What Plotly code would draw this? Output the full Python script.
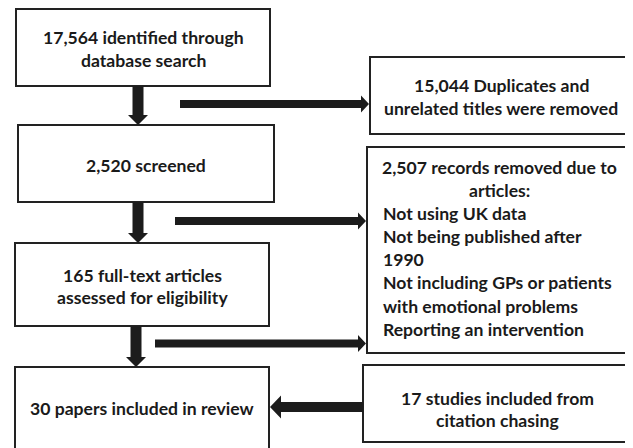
import plotly.graph_objects as go

# ---- content (text of each stage, one entry per line) ----
main_steps = [
    ["17,564 identified through", "database search"],
    ["2,520 screened"],
    ["165 full-text articles", "assessed for eligibility"],
    ["30 papers included in review"],
]
side_steps = [
    ["15,044 Duplicates and", "unrelated titles were removed"],
    ["2,507 records removed due to", "articles:"],
    ["17 studies included from", "citation chasing"],
]
exclusion_reasons = [
    "Not using UK data",
    "Not being published after",
    "1990",
    "Not including GPs or patients",
    "with emotional problems",
    "Reporting an intervention",
]

# ---- layout geometry (page pixel space) ----
W, H = 633, 448
OFF = 8  # default body margin of the page
main_boxes = [(16, 9, 270, 86), (18, 125, 274, 202), (15, 243, 269, 326), (15, 367, 269, 452)]
main_text_y = [[37, 60], [165], [275, 297], [408]]
side_boxes = [(370, 57, 632, 134), (367, 147, 632, 353), (363, 365, 632, 442)]
side_text_y = [[85, 108], [167, 190], [398, 420]]
reason_x = 381
reason_y0, reason_dy = 213, 23.3

FONT = "Lato"
FS = 17.6
TXT = "#1a1a1a"
LINE = "#222222"
ARROW = "#1c1c1c"

fig = go.Figure()
fig.add_trace(go.Scatter(x=[OFF, W], y=[OFF, H], mode="markers", marker=dict(opacity=0),
                         hoverinfo="skip", showlegend=False))

shapes = []
for (x0, y0, x1, y1) in main_boxes + side_boxes:
    shapes.append(dict(type="rect", x0=x0, y0=y0, x1=x1, y1=y1,
                       line=dict(color=LINE, width=2), fillcolor="white", layer="below"))

def down_arrow(cx, y0, ytip, w=11, hw=20, hl=10):
    yb = ytip - hl
    return (f"M{cx-w/2},{y0} L{cx+w/2},{y0} L{cx+w/2},{yb} L{cx+hw/2},{yb} "
            f"L{cx},{ytip} L{cx-hw/2},{yb} L{cx-w/2},{yb} Z")

def h_arrow(cy, x0, xtip, w=8, hw=17, hl=8):
    d = 1 if xtip > x0 else -1
    xb = xtip - d * hl
    return (f"M{x0},{cy-w/2} L{xb},{cy-w/2} L{xb},{cy-hw/2} L{xtip},{cy} "
            f"L{xb},{cy+hw/2} L{xb},{cy+w/2} L{x0},{cy+w/2} Z")

paths = [
    down_arrow(138, 86, 125),
    h_arrow(104, 180, 369),
    down_arrow(138, 202, 243),
    h_arrow(221, 175, 366),
    down_arrow(136, 326, 367),
    h_arrow(343.5, 155, 366),
    h_arrow(407, 363, 270, w=10, hw=23, hl=11),
]
for p in paths:
    shapes.append(dict(type="path", path=p, fillcolor=ARROW, line=dict(width=0)))

def label(x, y, t, anchor="center"):
    return dict(x=x, y=y, text=f"<b>{t}</b>", showarrow=False, xanchor=anchor,
                yanchor="middle", align=anchor if anchor != "center" else "center",
                font=dict(family=FONT, size=FS, color=TXT))

annotations = []
for (x0, y0, x1, y1), ys, lines in zip(main_boxes, main_text_y, main_steps):
    for y, t in zip(ys, lines):
        annotations.append(label((x0 + x1) / 2, y, t))
for (x0, y0, x1, y1), ys, lines in zip(side_boxes, side_text_y, side_steps):
    for y, t in zip(ys, lines):
        annotations.append(label((x0 + x1) / 2, y, t))
for i, t in enumerate(exclusion_reasons):
    annotations.append(label(reason_x, reason_y0 + i * reason_dy, t, anchor="left"))

fig.update_layout(
    width=W - OFF, height=H - OFF, margin=dict(l=0, r=0, t=0, b=0),
    paper_bgcolor="white", plot_bgcolor="white",
    xaxis=dict(range=[OFF, W], visible=False, fixedrange=True),
    yaxis=dict(range=[H, OFF], visible=False, fixedrange=True),
    shapes=shapes, annotations=annotations, showlegend=False,
)
fig.write_html("out.html")
